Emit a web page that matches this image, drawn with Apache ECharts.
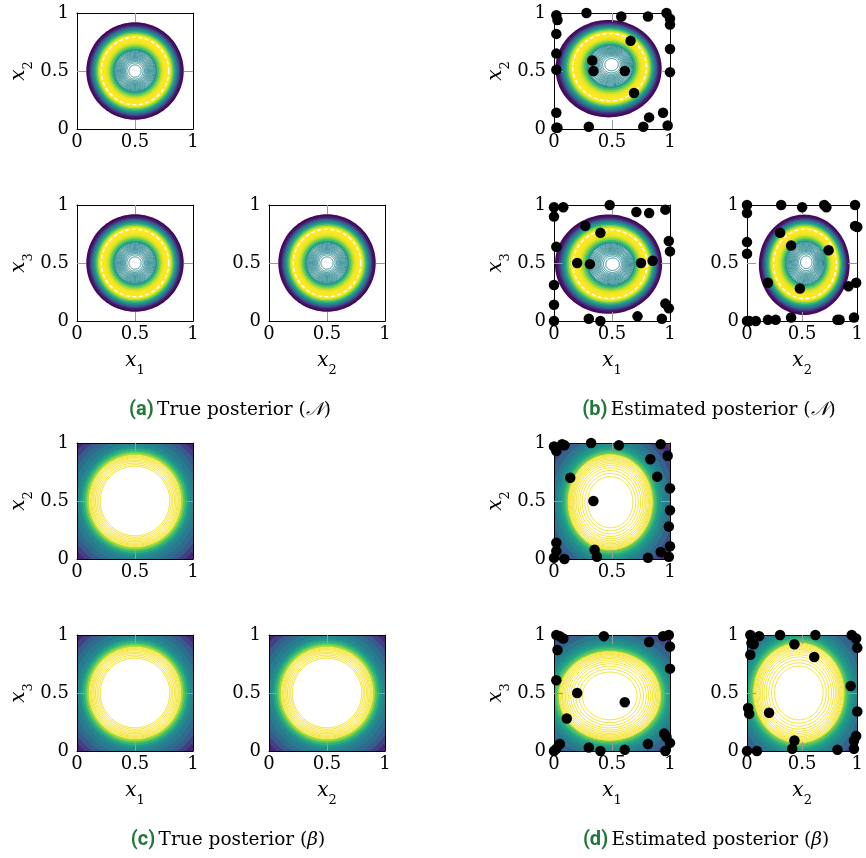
<!DOCTYPE html>
<html><head><meta charset="utf-8">
<script src="https://cdn.jsdelivr.net/npm/echarts@6/dist/echarts.min.js"></script>
<style>html,body{margin:0;padding:0;background:#fff}#c{width:866px;height:858px}</style>
</head><body><div id="c"></div>
<script>
// ---------- data ----------
const tickValues = [0, 0.5, 1];
const innerTicks = [0.5];

// Gaussian posterior contour bands: [radius, level] (outer -> inner)
const gaussOuterBands = [[0.42,0.02],[0.405,0.06],[0.392,0.16],[0.38,0.3],[0.368,0.42],[0.356,0.52],[0.344,0.64],[0.332,0.78],[0.32,0.9],[0.308,1.0]];
const gaussInnerBands = [[0.285,1.0],[0.255,0.97],[0.235,0.9],[0.22,0.8],[0.205,0.68],[0.19,0.56],[0.18,0.5]];
const gaussWhiteR = 0.175;
const gaussLineLevel = 0.45;
const gaussLines = [0.173,0.165,0.157,0.149,0.141,0.133,0.125,0.117,0.109,0.101,0.092,0.082,0.07,0.053];
const gaussDashR = [0.29];

// Beta posterior (true) bands
const betaTrueBands = [[0.72,0.02],[0.69,0.1],[0.66,0.2],[0.62,0.3],[0.58,0.36],[0.54,0.42],[0.50,0.47],[0.47,0.55],[0.45,0.65],[0.43,0.76],[0.415,0.87],[0.40,0.95]];
const betaTrueWhiteR = 0.395;
const betaTrueLines = [0.39,0.382,0.373,0.363,0.352,0.34,0.327,0.313,0.30];
// Beta posterior (estimated) bands
const betaEstBands = [[0.75,0.02],[0.70,0.12],[0.65,0.25],[0.60,0.34],[0.55,0.41],[0.51,0.46],[0.48,0.52],[0.455,0.58],[0.435,0.66],[0.42,0.74],[0.405,0.82],[0.395,0.9]];
const betaEstWhiteR = 0.39;
const betaEstLines = [0.388,0.38,0.372,0.363,0.353,0.342,0.33,0.316,0.30,0.282,0.26,0.236,0.21];

// estimated-posterior sample points
const dotsB1 = [[0.02,0.98],[0.03,0.94],[0.28,1.0],[0.58,0.97],[0.81,0.97],[0.97,1.0],[1.0,0.95],[1.0,0.90],[0.02,0.82],[0.66,0.76],[1.0,0.69],[0.02,0.65],[0.33,0.59],[0.02,0.51],[0.34,0.50],[0.61,0.50],[1.0,0.49],[0.69,0.31],[0.02,0.14],[0.94,0.14],[0.82,0.10],[0.02,0.01],[0.03,0.01],[0.30,0.02],[0.77,0.02],[0.98,0.03]];
const dotsB2 = [[0.0,0.98],[0.08,0.98],[0.0,0.90],[0.48,1.0],[0.71,0.94],[0.82,0.93],[0.96,0.96],[0.27,0.82],[0.40,0.76],[0.99,0.69],[1.0,0.60],[0.02,0.64],[0.20,0.50],[0.31,0.49],[0.75,0.50],[0.85,0.52],[0.0,0.31],[0.0,0.14],[0.96,0.15],[0.99,0.11],[0.0,0.0],[0.30,0.02],[0.40,0.0],[0.72,0.04],[0.93,0.02]];
const dotsB3 = [[0.0,1.0],[0.0,0.93],[0.31,1.0],[0.50,0.98],[0.70,1.0],[0.72,0.98],[0.98,1.0],[0.98,0.82],[1.0,0.81],[0.30,0.76],[0.0,0.68],[0.40,0.65],[0.74,0.61],[0.0,0.58],[0.19,0.33],[0.48,0.28],[0.92,0.30],[0.99,0.33],[0.0,0.0],[0.02,0.0],[0.08,0.0],[0.19,0.01],[0.26,0.01],[0.40,0.03],[0.82,0.01],[0.84,0.01],[0.97,0.03]];
const dotsD1 = [[0.0,0.97],[0.02,0.93],[0.07,0.99],[0.09,0.98],[0.32,1.0],[0.56,0.98],[0.92,0.99],[0.98,0.89],[0.83,0.86],[0.14,0.70],[0.89,0.71],[1.0,0.61],[0.34,0.50],[1.0,0.42],[0.99,0.28],[0.02,0.14],[1.0,0.11],[0.35,0.08],[0.02,0.07],[0.92,0.06],[0.37,0.02],[0.0,0.01],[0.09,0.0],[0.81,0.01],[0.99,0.02]];
const dotsD2 = [[0.02,1.0],[0.05,0.99],[0.08,0.97],[0.43,0.99],[0.03,0.87],[0.82,0.94],[0.94,0.99],[0.99,1.0],[1.0,0.90],[1.0,0.71],[0.02,0.61],[0.20,0.50],[0.61,0.42],[0.11,0.28],[0.95,0.15],[0.97,0.12],[1.0,0.07],[0.81,0.06],[0.05,0.06],[0.02,0.02],[0.0,0.0],[0.30,0.03],[0.40,0.0],[0.61,0.01],[0.96,0.0]];
const dotsD3 = [[0.03,1.0],[0.11,0.99],[0.30,1.0],[0.62,1.0],[0.95,1.0],[0.99,0.97],[0.04,0.93],[0.06,0.92],[0.43,0.92],[1.0,0.89],[0.03,0.83],[0.61,0.81],[0.94,0.56],[0.01,0.37],[0.02,0.32],[0.20,0.33],[1.0,0.34],[0.99,0.13],[0.97,0.09],[0.43,0.09],[0.41,0.02],[0.0,0.0],[0.09,0.0],[0.82,0.01],[0.97,0.02]];

const captions = [
  {tag:'(a)', text:'True posterior (', sym:'𝒩', end:')'},
  {tag:'(b)', text:'Estimated posterior (', sym:'𝒩', end:')'},
  {tag:'(c)', text:'True posterior (', sym:'β', end:')'},
  {tag:'(d)', text:'Estimated posterior (', sym:'β', end:')'}
];

// ---------- styles / layout ----------
const SERIF = 'DejaVu Serif';
const VIRIDIS = ['#440154','#482475','#414487','#355f8d','#2a788e','#21918c','#22a884','#44bf70','#7ad151','#bddf26','#fde725'];
function hex2rgb(h){return [parseInt(h.slice(1,3),16),parseInt(h.slice(3,5),16),parseInt(h.slice(5,7),16)];}
function viridis(t){
  t=Math.max(0,Math.min(1,t)); const p=t*(VIRIDIS.length-1); const i=Math.min(Math.floor(p),VIRIDIS.length-2); const f=p-i;
  const a=hex2rgb(VIRIDIS[i]), b=hex2rgb(VIRIDIS[i+1]);
  return 'rgb('+a.map((v,k)=>Math.round(v+(b[k]-v)*f)).join(',')+')';
}
const colX=[77,269,554,747], rowY=[13,205,443,635], SZ=116;

const profiles = {
  gauss: {fills:[...gaussOuterBands, ...gaussInnerBands], white:gaussWhiteR, lines:gaussLines, lineColor:viridis(gaussLineLevel), lineWidth:1, dash:gaussDashR, fillOpacity:1},
  betaTrue: {fills:betaTrueBands, white:betaTrueWhiteR, lines:betaTrueLines, lineColor:'#f3e01c', lineWidth:0.9, dash:[], fillOpacity:0.9},
  betaEst: {fills:betaEstBands, white:betaEstWhiteR, lines:betaEstLines, lineColor:'#f3e01c', lineWidth:0.9, dash:[], fillOpacity:0.85}
};

// panel: col,row, profile, shape (centre, axis scale, centre drift), labels, dots
const panels = [
  {c:0,r:0,p:'gauss',s:{cx:.5,cy:.5,ax:1,ay:1,dx:0,dy:0},xn:null,yn:'2',dots:null},
  {c:0,r:1,p:'gauss',s:{cx:.5,cy:.5,ax:1,ay:1,dx:0,dy:0},xn:'1',yn:'3',dots:null},
  {c:1,r:1,p:'gauss',s:{cx:.5,cy:.5,ax:1,ay:1,dx:0,dy:0},xn:'2',yn:null,dots:null},
  {c:2,r:0,p:'gauss',s:{cx:.50,cy:.56,ax:1.09,ay:1.0,dx:-0.07,dy:-0.095},xn:null,yn:'2',dots:dotsB1},
  {c:2,r:1,p:'gauss',s:{cx:.51,cy:.49,ax:1.1,ay:1.02,dx:-0.095,dy:0},xn:'1',yn:'3',dots:dotsB2},
  {c:3,r:1,p:'gauss',s:{cx:.54,cy:.51,ax:0.98,ay:1.03,dx:-0.05,dy:-0.06},xn:'2',yn:null,dots:dotsB3},
  {c:0,r:2,p:'betaTrue',s:{cx:.5,cy:.5,ax:1,ay:1,dx:0,dy:0},xn:null,yn:'2',dots:null},
  {c:0,r:3,p:'betaTrue',s:{cx:.5,cy:.5,ax:1,ay:1,dx:0,dy:0},xn:'1',yn:'3',dots:null},
  {c:1,r:3,p:'betaTrue',s:{cx:.5,cy:.5,ax:1,ay:1,dx:0,dy:0},xn:'2',yn:null,dots:null},
  {c:2,r:2,p:'betaEst',s:{cx:.485,cy:.49,ax:0.93,ay:1.05,dx:0,dy:0},xn:null,yn:'2',dots:dotsD1},
  {c:2,r:3,p:'betaEst',s:{cx:.48,cy:.475,ax:1.12,ay:0.98,dx:0,dy:0},xn:'1',yn:'3',dots:dotsD2},
  {c:3,r:3,p:'betaEst',s:{cx:.47,cy:.50,ax:1.05,ay:1.10,dx:0,dy:0},xn:'2',yn:null,dots:dotsD3}
];

const nameRich = {
  i:{fontFamily:SERIF,fontStyle:'italic',fontSize:20,color:'#000',lineHeight:24,verticalAlign:'bottom'},
  s:{fontFamily:SERIF,fontSize:13,color:'#000',lineHeight:24,verticalAlign:'bottom',padding:[0,0,-6,0]}
};

const grids=[], xAxes=[], yAxes=[], series=[];
panels.forEach((pn,i)=>{
  grids.push({left:colX[pn.c], top:rowY[pn.r], width:SZ, height:SZ, containLabel:false});
  const tick = {show:true, inside:true, length:9, customValues:innerTicks, lineStyle:{color:'#9a9a9a',width:1}};
  const line = {show:true, onZero:false, lineStyle:{color:'#000',width:1}};
  xAxes.push({gridIndex:i,type:'value',min:0,max:1,position:'bottom',z:3,axisLine:line,axisTick:tick,splitLine:{show:false},
    axisLabel:{customValues:tickValues,fontFamily:SERIF,fontSize:18,color:'#000',margin:4},
    name: pn.xn? '{i|x}{s|'+pn.xn+'}':'', nameLocation:'middle', nameGap:26, nameTextStyle:{rich:nameRich}});
  xAxes.push({gridIndex:i,type:'value',min:0,max:1,position:'top',z:3,axisLine:line,axisTick:tick,splitLine:{show:false},axisLabel:{show:false}});
  yAxes.push({gridIndex:i,type:'value',min:0,max:1,position:'left',z:3,axisLine:line,axisTick:tick,splitLine:{show:false},
    axisLabel:{customValues:tickValues,fontFamily:SERIF,fontSize:18,color:'#000',margin:8},
    name: pn.yn? '{i|x}{s|'+pn.yn+'}':'', nameLocation:'middle', nameRotate:90, nameGap:48, nameTextStyle:{rich:nameRich}});
  yAxes.push({gridIndex:i,type:'value',min:0,max:1,position:'right',z:3,axisLine:line,axisTick:tick,splitLine:{show:false},axisLabel:{show:false}});

  const prof = profiles[pn.p], sh = pn.s;
  const data = [];
  prof.fills.forEach(([r,l])=>data.push([r,l,0]));
  data.push([prof.white,0,1]);
  prof.lines.forEach(r=>data.push([r,0,2]));
  prof.dash.forEach(r=>data.push([r,1,3]));
  series.push({type:'custom',coordinateSystem:'cartesian2d',xAxisIndex:2*i,yAxisIndex:2*i,clip:true,silent:true,z:2,
    data:data,
    renderItem:function(params,api){
      const r=api.value(0), lvl=api.value(1), kind=api.value(2);
      const cx=sh.cx+sh.dx*r, cy=sh.cy+sh.dy*r, rx=sh.ax*r, ry=sh.ay*r;
      const pts=[];
      for(let k=0;k<120;k++){const a=k/120*Math.PI*2; pts.push(api.coord([cx+rx*Math.cos(a), cy+ry*Math.sin(a)]));}
      let style;
      if(kind===0){const col=viridis(lvl); style={fill:col,opacity:prof.fillOpacity,stroke:null};}
      else if(kind===1){style={fill:'#fff',stroke:null};}
      else if(kind===2){style={fill:null,stroke:prof.lineColor,lineWidth:prof.lineWidth};}
      else {style={fill:null,stroke:'#fff',lineWidth:1.4,lineDash:[4,2.5]};}
      return {type:'polygon',shape:{points:pts},style:style};
    }
  });
  if(pn.dots){
    series.push({type:'scatter',xAxisIndex:2*i,yAxisIndex:2*i,data:pn.dots,symbol:'circle',symbolSize:10.5,clip:false,z:6,
      itemStyle:{color:'#000',borderWidth:0,opacity:1},silent:true});
  }
});

const capPos=[[230,410],[709,410],[228,840],[706,840]];
const graphics = captions.map((c,k)=>({type:'text',x:capPos[k][0],y:capPos[k][1],z:10,
  style:{text:'{b|'+c.tag+'} {t|'+c.text+'}{m|'+c.sym+'}{t|'+c.end+'}',align:'center',verticalAlign:'middle',
    rich:{b:{fontFamily:'Liberation Sans Narrow, Roboto, sans-serif',fontWeight:'bold',fontSize:20,fill:'#23773a',color:'#23773a'},
          t:{fontFamily:SERIF,fontSize:18.5,fill:'#000',color:'#000'},
          m:{fontFamily:SERIF,fontStyle:'italic',fontSize:18.5,fill:'#000',color:'#000'}}}}));

const chart = echarts.init(document.getElementById('c'),null,{renderer:'canvas'});
chart.setOption({animation:false,backgroundColor:'#fff',grid:grids,xAxis:xAxes,yAxis:yAxes,series:series,graphic:graphics});
</script></body></html>
